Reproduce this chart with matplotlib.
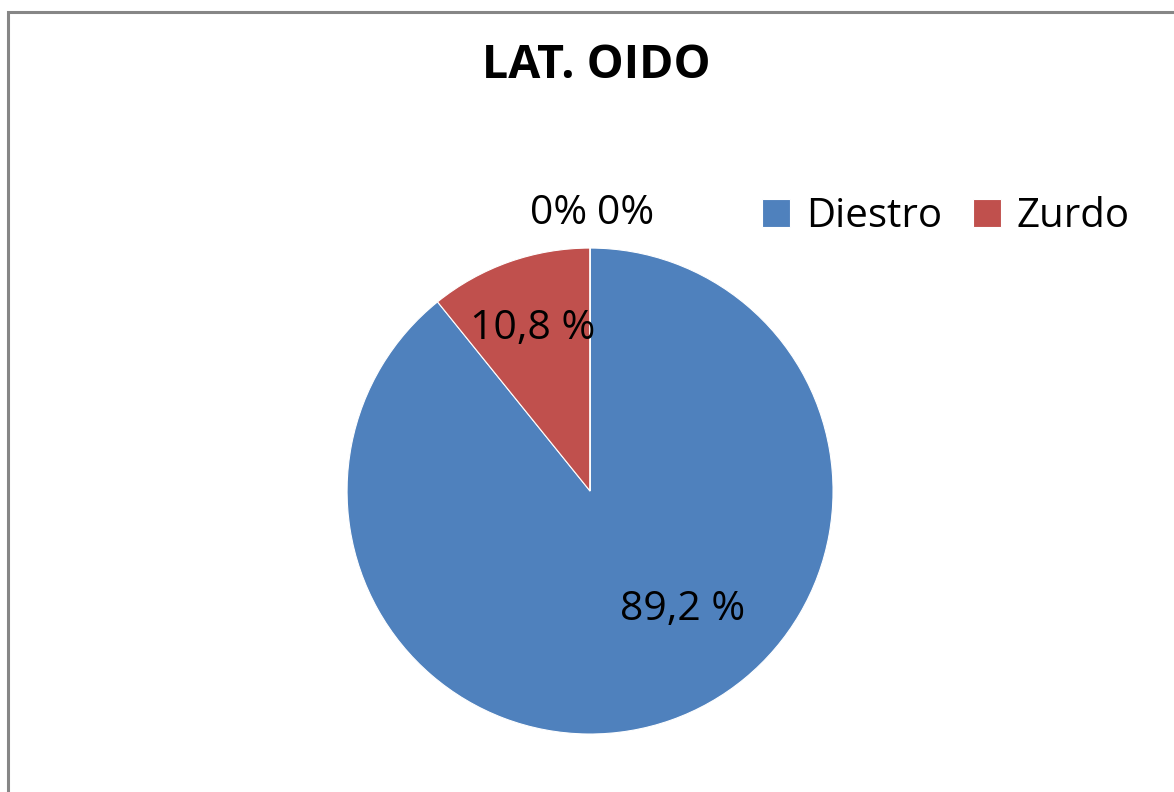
import matplotlib.pyplot as plt
import numpy as np
from matplotlib.patches import Rectangle

plt.rcParams["font.family"] = ["Open Sans", "DejaVu Sans"]

categories = ["Diestro", "Zurdo", "", ""]
values = [89.2, 10.8, 0.0, 0.0]
labels = ["89,2 %", "10,8 %", "0%", "0%"]
colors = ["#4F81BD", "#C0504D", "#9BBB59", "#8064A2"]

fig = plt.figure(figsize=(11.74, 7.92), dpi=100)

# chart-area border (left and top visible in the reference)
fig.add_artist(Rectangle((8 / 1174, -0.05), 1.2, (792 - 12) / 792 + 0.05,
                         transform=fig.transFigure, fill=False,
                         edgecolor="#868686", linewidth=2.2))

ax = fig.add_axes([0.2956, 0.0732, 0.414, 0.6136])
wedges, _ = ax.pie(values, colors=colors, startangle=90, counterclock=False,
                   radius=1.0, wedgeprops=dict(edgecolor="white", linewidth=0.8))
ax.set_xlim(-1, 1)
ax.set_ylim(-1, 1)
ax.set_aspect("equal")
ax.axis("off")

# data labels: radius and angle chosen like Excel's best fit
label_pos = [(0.62, -52.0), (0.71, None)]
for w, lab, (r, ang) in zip(wedges[:2], labels[:2], label_pos):
    if ang is None:
        ang = (w.theta1 + w.theta2) / 2
    x, y = r * np.cos(np.radians(ang)), r * np.sin(np.radians(ang))
    ax.text(x, y, lab, ha="center", va="center", fontsize=29.5, clip_on=False)

ax.text(-0.128, 1.14, labels[2], ha="center", va="center", fontsize=29.5, clip_on=False)
ax.text(0.148, 1.14, labels[3], ha="center", va="center", fontsize=29.5, clip_on=False)

fig.text(596 / 1174, 1 - 66 / 792, "LAT. OIDO", ha="center", va="center",
         fontsize=33.5, fontweight="bold")

leg = fig.legend(wedges[:2], categories[:2], loc="center",
                 bbox_to_anchor=(946 / 1174, 1 - 217 / 792), ncol=2,
                 frameon=False, fontsize=29, handlelength=0.7, handleheight=0.7,
                 handletextpad=0.4, columnspacing=0.75)

fig.savefig("out.png", dpi=100)
